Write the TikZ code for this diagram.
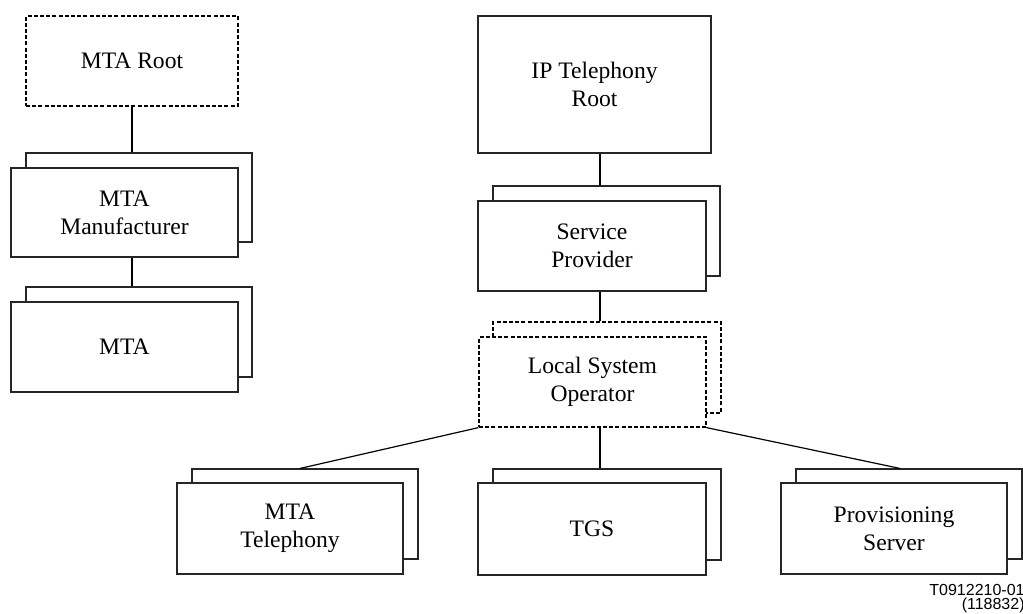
\documentclass[tikz,border=0pt]{standalone}
\usepackage{fontspec}
\setmainfont{Liberation Serif}
\newfontfamily\labelfont{Liberation Sans}
\usetikzlibrary{calc}
\tikzset{
  box/.style={draw=black!85, line width=0.55pt, fill=white, rectangle, inner sep=0pt,
    align=center, font=\fontsize{11.8}{14}\selectfont},
  dbox/.style={box, draw=black, line width=0.65pt, dash pattern=on 2pt off 1.1pt},
  conn/.style={draw=black, line width=0.8pt},
  diag/.style={draw=black, line width=0.6pt},
}
\begin{document}
\begin{tikzpicture}[x=0.5pt,y=-0.5pt]
\useasboundingbox (0,0) rectangle (1023,614);
% left column
\node[dbox, minimum width=106pt, minimum height=45pt] (mr) at (132,61) {MTA Root};
\node[box, minimum width=113pt, minimum height=44.5pt] (mmB) at (139,197.5) {};
\node[box, minimum width=113.5pt, minimum height=44.5pt] (mm) at (124.5,212.5) {MTA\\Manufacturer};
\node[box, minimum width=113pt, minimum height=45pt] (maB) at (139,332) {};
\node[box, minimum width=113.5pt, minimum height=45pt] (ma) at (124.5,347) {MTA};
\draw[conn] (mr.south) -- (mr.south |- mmB.north);
\draw[conn] (mr.south |- mm.south) -- (mr.south |- maB.north);
% right column
\coordinate (cx) at (600,0);
\node[box, minimum width=116.5pt, minimum height=68.5pt] (ipt) at (594.5,84.5) {IP Telephony\\Root};
\node[box, minimum width=113.5pt, minimum height=45pt] (spB) at (606.5,231) {};
\node[box, minimum width=114pt, minimum height=45pt] (sp) at (592,246) {Service\\Provider};
\node[dbox, minimum width=114pt, minimum height=45.5pt] (lsoB) at (607,367.5) {};
\node[dbox, minimum width=113.5pt, minimum height=45pt] (lso) at (592.5,382) {Local System\\Operator};
\draw[conn] (cx |- ipt.south) -- (cx |- spB.north);
\draw[conn] (cx |- sp.south) -- (cx |- lsoB.north);
% bottom row
\node[box, minimum width=113pt, minimum height=45pt] (mtB) at (305,514) {};
\node[box, minimum width=113pt, minimum height=45.5pt] (mt) at (290,528.5) {MTA\\Telephony};
\node[box, minimum width=114pt, minimum height=45.5pt] (tgB) at (607,514.5) {};
\node[box, minimum width=114pt, minimum height=46pt] (tg) at (592,529) {TGS};
\node[box, minimum width=113pt, minimum height=45pt] (pvB) at (909,514) {};
\node[box, minimum width=113pt, minimum height=45.5pt] (pv) at (894,528.5) {Provisioning\\Server};
\draw[diag] (lso.south west) -- ($(mtB.north)+(-5,0)$);
\draw[conn] (cx |- lso.south) -- (cx |- tgB.north);
\draw[diag] (lso.south east) -- ($(pvB.north)+(-9,0)$);
% label
\node[anchor=north east, inner sep=0pt, align=right,
  font=\labelfont\fontsize{8}{7}\selectfont] (lbl) at (1025,584) {T0912210-01\\(118832)};
\end{tikzpicture}
\end{document}
